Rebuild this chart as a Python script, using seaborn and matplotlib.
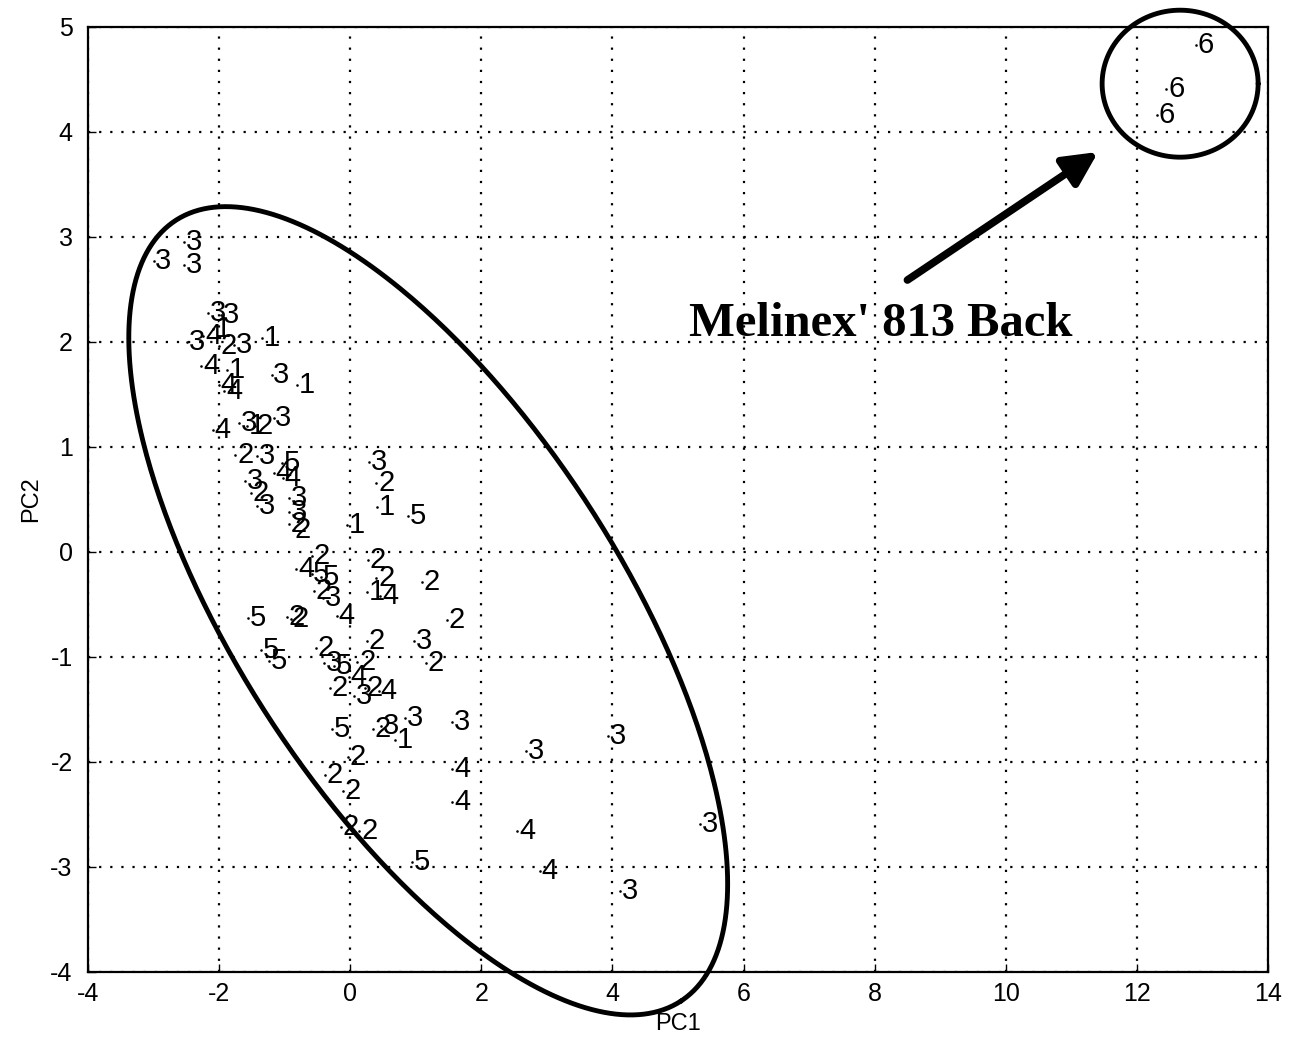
import numpy as np
import pandas as pd
import matplotlib
matplotlib.use('Agg')
import matplotlib.pyplot as plt
import seaborn as sns

# ---- data ----
pc1 = [-3.00, -2.53, -2.53, -2.17, -1.97, -2.24, -2.09, -2.00, -2.49, -1.77,
       -2.27, -1.88, -2.00, -1.92, -1.34, -1.20, -0.81,
       -2.09, -1.69, -1.57, -1.45, -1.17, -1.75, -1.42, -1.04, -1.17,
       -1.03, -1.60, -1.51, -1.42, -0.93, -0.93, -0.93, -0.87, -0.05,
       0.29, 0.40, 0.41, 0.88,
       -0.58, -0.82, -0.59, -0.44, -0.55, -0.41, 0.27, 0.40, 0.26, 0.46,
       1.10, -1.56, -0.90, -0.96, -0.20, 1.47, -1.36, -1.24, -0.52, -0.40,
       -0.24, 0.26, 0.11, 0.98, 1.15, -0.02, -0.31, 0.06, 0.23, 0.44,
       -0.28, 0.35, 0.47, 0.69, 0.84, 1.56, -0.03, -0.38, -0.11, 1.56, 1.56,
       -0.14, 0.14, 0.94, 2.68, 3.93, 2.55, 2.89, 5.34, 4.12,
       12.90, 12.45, 12.31]
pc2 = [2.77, 2.95, 2.73, 2.28, 2.26, 2.06, 2.12, 1.96, 2.00, 1.97,
       1.77, 1.73, 1.59, 1.53, 2.04, 1.69, 1.59,
       1.16, 1.23, 1.20, 1.20, 1.28, 0.92, 0.91, 0.85, 0.75,
       0.70, 0.68, 0.56, 0.44, 0.51, 0.38, 0.27, 0.21, 0.26,
       0.86, 0.66, 0.43, 0.34,
       -0.04, -0.16, -0.21, -0.24, -0.37, -0.44, -0.08, -0.25, -0.38, -0.42,
       -0.29, -0.63, -0.64, -0.62, -0.61, -0.65, -0.93, -1.04, -0.91, -1.06,
       -1.09, -0.85, -1.05, -0.85, -1.06, -1.19, -1.30, -1.37, -1.30, -1.32,
       -1.69, -1.69, -1.66, -1.79, -1.58, -1.62, -1.95, -2.12, -2.28, -2.07, -2.38,
       -2.62, -2.66, -2.95, -1.90, -1.75, -2.66, -3.04, -2.59, -3.23,
       4.83, 4.41, 4.16]
group = [3, 3, 3, 3, 3, 4, 1, 2, 3, 3,
         4, 1, 4, 4, 1, 3, 1,
         4, 3, 1, 2, 3, 2, 3, 5, 4,
         4, 3, 2, 3, 3, 3, 2, 2, 1,
         3, 2, 1, 5,
         2, 4, 5, 5, 2, 3, 2, 2, 1, 4,
         2, 5, 2, 2, 4, 2, 5, 5, 2, 3,
         5, 2, 2, 3, 2, 4, 2, 3, 2, 4,
         5, 2, 3, 1, 3, 3, 2, 2, 2, 4, 4,
         2, 2, 5, 3, 3, 4, 4, 3, 3,
         6, 6, 6]

x_ticks = list(range(-4, 15, 2))
y_ticks = list(range(-4, 6, 1))

# ---- figure ----
sns.set_theme(style='white')
plt.rcParams['font.family'] = ['Liberation Sans', 'DejaVu Sans']
plt.rcParams['axes.unicode_minus'] = False

fig = plt.figure(figsize=(12.92, 10.38), dpi=100)
ax = fig.add_axes([0.0681, 0.0636, 0.9133, 0.9104])

df = pd.DataFrame({'PC1': pc1, 'PC2': pc2, 'group': group})
sns.scatterplot(data=df, x='PC1', y='PC2', ax=ax, color='black', marker='.',
                s=14, linewidth=0, legend=False, zorder=3)
for x, y, g in zip(df['PC1'], df['PC2'], df['group']):
    ax.annotate(str(g), (x, y), xytext=(1.2, 0), textcoords='offset points',
                ha='left', va='center', fontsize=21, color='black', zorder=4)

ax.set_xlim(-4, 14)
ax.set_ylim(-4, 5)
ax.set_xticks(x_ticks)
ax.set_yticks(y_ticks)
ax.grid(True, color='black', linestyle=(0, (1, 4)), linewidth=1.6)
for s in ax.spines.values():
    s.set_color('black')
    s.set_linewidth(1.6)
ax.tick_params(axis='both', direction='in', length=6, width=1, labelsize=18,
               colors='black', bottom=True, left=True)
ax.tick_params(axis='x', pad=7)
ax.tick_params(axis='y', pad=11)
ax.set_xlabel('PC1', fontsize=17, labelpad=5, color='black')
ax.set_ylabel('PC2', fontsize=17, labelpad=6, color='black')

# ---- annotations: ellipses & arrow ----
t = np.linspace(0, 2 * np.pi, 500)
c = (1.19, -0.56)
u = (3.855, -3.717)
v = (-2.45, -1.00)
ax.plot(c[0] + u[0] * np.cos(t) + v[0] * np.sin(t),
        c[1] + u[1] * np.cos(t) + v[1] * np.sin(t),
        color='black', lw=3.5, clip_on=False, zorder=5)
c2 = (12.66, 4.46)
ax.plot(c2[0] + 1.19 * np.cos(t), c2[1] + 0.70 * np.sin(t),
        color='black', lw=3.5, clip_on=False, zorder=5)

ax.annotate('', xy=(11.41, 3.81), xytext=(8.50, 2.59),
            arrowprops=dict(arrowstyle='-|>,head_length=1.7,head_width=0.85',
                            lw=5.5, color='black', shrinkA=0, shrinkB=0), zorder=5)
ax.text(8.10, 2.17, "Melinex' 813 Back", fontfamily='Liberation Serif',
        fontweight='bold', fontsize=35, ha='center', va='center', color='black', zorder=5)

fig.savefig('out.png', dpi=100)
